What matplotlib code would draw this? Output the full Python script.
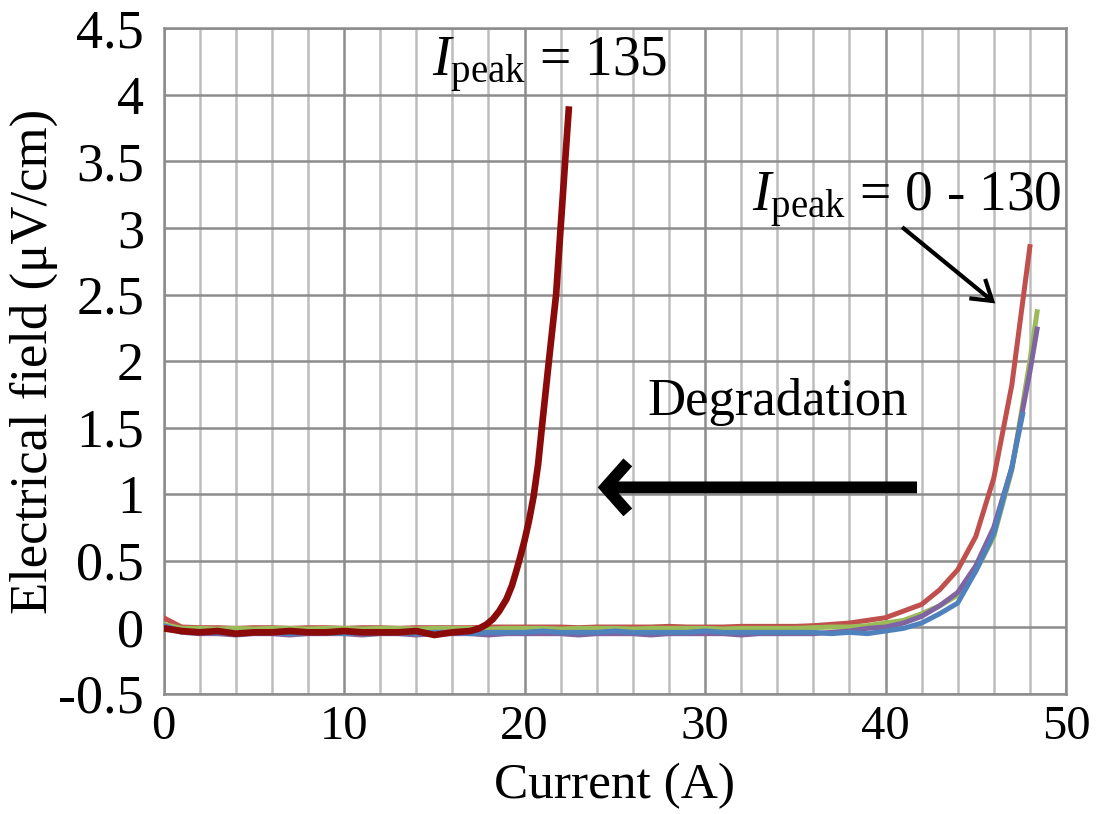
import numpy as np
import matplotlib
matplotlib.use("Agg")
import matplotlib.pyplot as plt
from matplotlib.ticker import MultipleLocator

plt.rcParams['font.family'] = ['Liberation Serif', 'DejaVu Serif']
plt.rcParams['mathtext.fontset'] = 'custom'
plt.rcParams['mathtext.rm'] = 'Liberation Serif'
plt.rcParams['mathtext.it'] = 'Liberation Serif:italic'

# current (A) for the Ipeak = 0 - 130 curves
amps = list(range(0, 49))

red_e = [0.07, 0.00, -0.005, -0.005, -0.01, -0.005, -0.005, -0.01, -0.005, -0.005,
         -0.01, -0.005, -0.005, -0.01, -0.005, -0.005, -0.005, -0.005, 0.0, 0.0,
         0.0, 0.0, 0.0, -0.005, 0.0, 0.0, 0.0, 0.0, 0.005, 0.0,
         0.0, 0.0, 0.005, 0.005, 0.005, 0.005, 0.01, 0.02, 0.03, 0.05,
         0.07, 0.12, 0.17, 0.28, 0.43, 0.68, 1.12, 1.82, 2.86]
green_e = [0.02, -0.01, -0.01, -0.015, -0.01, -0.015, -0.01, -0.01, -0.015, -0.01,
           -0.01, -0.015, -0.01, -0.01, -0.015, -0.01, -0.01, -0.01, -0.015, -0.01,
           -0.01, -0.01, -0.015, -0.01, -0.01, -0.01, -0.015, -0.01, -0.01, -0.01,
           -0.01, -0.015, -0.01, -0.01, -0.01, -0.01, -0.005, 0.0, 0.0, 0.01,
           0.03, 0.05, 0.10, 0.16, 0.24, 0.42, 0.68, 1.18, 2.00, 2.37]
purple_e = [0.0, -0.04, -0.05, -0.05, -0.06, -0.05, -0.05, -0.06, -0.05, -0.05,
            -0.05, -0.06, -0.05, -0.05, -0.06, -0.05, -0.05, -0.05, -0.06, -0.05,
            -0.05, -0.05, -0.05, -0.06, -0.05, -0.05, -0.05, -0.06, -0.05, -0.05,
            -0.05, -0.05, -0.06, -0.05, -0.05, -0.05, -0.05, -0.04, -0.03, -0.01,
            0.0, 0.03, 0.08, 0.16, 0.26, 0.46, 0.75, 1.20, 1.92, 2.24]
blue_e = [0.01, -0.03, -0.04, -0.04, -0.05, -0.04, -0.04, -0.05, -0.04, -0.04,
          -0.05, -0.04, -0.04, -0.04, -0.05, -0.04, -0.04, -0.05, -0.04, -0.04,
          -0.04, -0.03, -0.04, -0.04, -0.04, -0.03, -0.04, -0.04, -0.04, -0.04,
          -0.03, -0.04, -0.04, -0.04, -0.04, -0.04, -0.04, -0.05, -0.04, -0.05,
          -0.03, -0.01, 0.03, 0.10, 0.18, 0.42, 0.70, 1.20, 1.60]
green_x = amps + [48.4]
purple_x = amps + [48.4]
blue_x = amps[:48] + [47.6]

# Ipeak = 135 curve
deg_x = [0, 1, 2, 3, 4, 5, 6, 7, 8, 9, 10, 11, 12, 13, 14, 15, 16, 17,
         17.5, 17.9, 18.25, 18.6, 19.0, 19.3, 19.5, 19.75, 20.0, 20.25, 20.5,
         20.75, 21.0, 21.35, 21.75, 22.0, 22.25, 22.45]
deg_e = [-0.01, -0.03, -0.04, -0.03, -0.05, -0.04, -0.04, -0.03, -0.04, -0.04,
         -0.03, -0.04, -0.04, -0.04, -0.03, -0.06, -0.04, -0.03,
         -0.01, 0.02, 0.06, 0.12, 0.21, 0.31, 0.40, 0.52, 0.65, 0.80, 0.98,
         1.22, 1.55, 2.00, 2.50, 3.00, 3.50, 3.89]

fig = plt.figure(figsize=(11.05, 8.14), dpi=100)
ax = fig.add_axes([0.148, 0.148, 0.8167, 0.817])

ax.plot(amps, red_e, color='#C0504D', lw=3.6, zorder=3)
ax.plot(green_x, green_e, color='#9BBB59', lw=3.6, zorder=3)
ax.plot(purple_x, purple_e, color='#8064A2', lw=3.6, zorder=3)
ax.plot(blue_x, blue_e, color='#4F81BD', lw=3.6, zorder=3)
ax.plot(deg_x, deg_e, color='#8B0A0A', lw=4.8, zorder=4)

ax.set_xlim(0, 50)
ax.set_ylim(-0.5, 4.5)
ax.xaxis.set_major_locator(MultipleLocator(10))
ax.xaxis.set_minor_locator(MultipleLocator(2))
ax.set_yticks([-0.5, 0, 0.5, 1, 1.5, 2, 2.5, 3, 3.5, 4, 4.5])
ax.set_yticklabels(['-0.5', '0', '0.5', '1', '1.5', '2', '2.5', '3', '3.5', '4', '4.5'])

ax.grid(which='minor', axis='x', color='#BDBDBD', lw=1.8, zorder=0)
ax.grid(which='major', axis='both', color='#8C8C8C', lw=1.8, zorder=1)
ax.set_axisbelow(True)
for s in ax.spines.values():
    s.set_color('#8C8C8C')
    s.set_linewidth(1.8)
ax.tick_params(which='both', length=0)
ax.tick_params(axis='y', labelsize=39, pad=14)
ax.tick_params(axis='x', labelsize=35, pad=8)

ax.set_xlabel('Current (A)', fontsize=37, labelpad=10)
ax.set_ylabel('Electrical field (μV/cm)', fontsize=38, labelpad=0)

ax.text(21.4, 4.22, r'$I_{\mathrm{peak}}$ = 135', fontsize=40, ha='center', va='center')
ax.text(41.2, 3.21, r'$I_{\mathrm{peak}}$ = 0 - 130', fontsize=40, ha='center', va='center')
ax.text(34.0, 1.69, 'Degradation', fontsize=38, ha='center', va='center')

ax.annotate('', xy=(46.2, 2.42), xytext=(40.8, 3.02),
            arrowprops=dict(arrowstyle='->,head_length=0.7,head_width=0.45', color='black',
                            lw=3, mutation_scale=20, joinstyle='miter', capstyle='butt'))
ax.annotate('', xy=(23.9, 1.05), xytext=(41.9, 1.05),
            arrowprops=dict(arrowstyle='->,head_length=0.8,head_width=0.9', color='black',
                            lw=8.5, mutation_scale=20, joinstyle='miter', capstyle='butt'))

fig.savefig('out.png', dpi=100)
